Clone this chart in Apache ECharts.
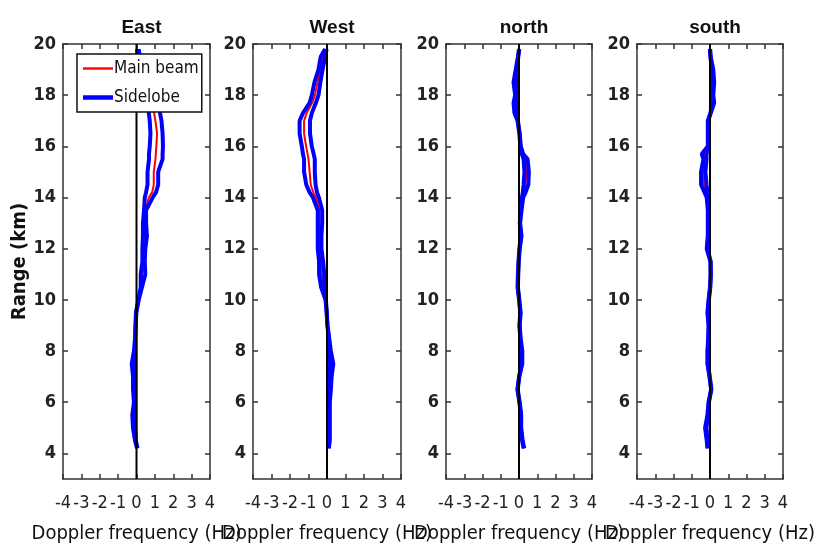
<!DOCTYPE html>
<html><head><meta charset="utf-8">
<script src="https://cdn.jsdelivr.net/npm/echarts@6/dist/echarts.min.js"></script>
<style>html,body{margin:0;padding:0;background:#fff}#c{width:819px;height:549px}</style>
</head><body><div id="c"></div>
<script>
const panelTitles = ['East', 'West', 'north', 'south'];
const xTicks = [-4, -3, -2, -1, 0, 1, 2, 3, 4];
const yTicks = [4, 6, 8, 10, 12, 14, 16, 18, 20];
const ranges = [4.2,4.5,5,5.5,6,6.5,7,7.5,8,8.5,9,9.5,10,10.5,11,11.5,12,12.5,13,13.5,14,14.2,14.5,15,15.5,15.7,16,16.5,17,17.3,17.7,18,18.5,19,19.5,19.8];

const eastMain = [0.04,-0.05,-0.12,-0.14,-0.1,-0.12,-0.12,-0.16,-0.1,-0.07,-0.05,-0.02,0.1,0.25,0.3,0.4,0.36,0.43,0.43,0.49,0.67,0.85,0.94,0.94,1.03,1.05,1.08,1.12,1.03,0.96,0.9,0.75,0.5,0.28,0.1,0.07];
const eastSideLo = [0.03,-0.08,-0.19,-0.23,-0.14,-0.19,-0.19,-0.26,-0.14,-0.08,-0.06,-0.03,0.1,0.23,0.23,0.32,0.32,0.35,0.35,0.41,0.45,0.52,0.6,0.6,0.68,0.68,0.72,0.76,0.72,0.67,0.6,0.5,0.3,0.12,0.04,0.04];
const eastSideHi = [0.05,-0.03,-0.06,-0.06,-0.06,-0.06,-0.06,-0.06,-0.06,-0.06,-0.04,-0.01,0.12,0.3,0.48,0.45,0.48,0.57,0.52,0.52,0.88,1.06,1.18,1.18,1.42,1.42,1.44,1.42,1.36,1.28,1.2,1.0,0.7,0.44,0.18,0.12];

const westMain = [0.09,0.13,0.13,0.13,0.13,0.16,0.18,0.22,0.16,0.11,0.02,0,-0.07,-0.24,-0.29,-0.34,-0.42,-0.41,-0.41,-0.41,-0.6,-0.74,-0.88,-0.94,-1.0,-1.05,-1.13,-1.24,-1.24,-1.1,-0.8,-0.65,-0.52,-0.36,-0.2,-0.05];
const westSideLo = [0.08,0.12,0.12,0.12,0.12,0.12,0.12,0.12,0.12,0.1,0.02,-0.02,-0.08,-0.32,-0.43,-0.43,-0.5,-0.5,-0.5,-0.5,-0.76,-0.94,-1.12,-1.24,-1.24,-1.3,-1.36,-1.48,-1.48,-1.3,-0.94,-0.82,-0.68,-0.46,-0.34,-0.1];
const westSideHi = [0.1,0.15,0.15,0.15,0.15,0.21,0.25,0.34,0.21,0.12,0.03,-0.01,-0.06,-0.15,-0.15,-0.21,-0.3,-0.3,-0.26,-0.26,-0.44,-0.54,-0.62,-0.66,-0.66,-0.72,-0.82,-0.92,-0.92,-0.82,-0.6,-0.46,-0.36,-0.24,-0.1,-0.02];

const northMain = [0.27,0.18,0.11,0.11,0.03,-0.08,0.01,0.17,0.17,0.08,0.03,0.08,0.01,-0.07,-0.05,-0.02,0.03,0.12,0.05,0.12,0.19,0.28,0.35,0.4,0.35,0.2,0.08,0.03,-0.07,-0.2,-0.22,-0.18,-0.22,-0.15,-0.05,0.01];
const northSideLo = [0.25,0.17,0.1,0.1,0.02,-0.09,0,0.15,0.15,0.07,0.02,0.07,0,-0.08,-0.06,-0.03,0.02,0.11,0.04,0.11,0.16,0.21,0.25,0.3,0.25,0.16,0.07,0.02,-0.08,-0.25,-0.3,-0.21,-0.3,-0.18,-0.06,0];
const northSideHi = [0.29,0.2,0.12,0.12,0.04,-0.07,0.02,0.18,0.18,0.09,0.04,0.09,0.02,-0.06,-0.04,-0.01,0.04,0.14,0.06,0.14,0.23,0.36,0.51,0.54,0.47,0.23,0.1,0.04,-0.06,-0.14,-0.14,-0.14,-0.14,-0.12,-0.04,0.02];

const southMain = [-0.13,-0.16,-0.23,-0.13,-0.07,0.07,-0.02,-0.13,-0.13,-0.09,-0.07,-0.13,-0.07,0.01,0.04,0.03,-0.16,-0.11,-0.11,-0.11,-0.14,-0.22,-0.33,-0.37,-0.3,-0.3,-0.11,-0.11,-0.11,0.03,0.18,0.14,0.18,0.14,0.03,0];
const southSideLo = [-0.14,-0.18,-0.27,-0.14,-0.08,0.06,-0.03,-0.14,-0.14,-0.1,-0.08,-0.14,-0.08,0,0.03,0.02,-0.18,-0.12,-0.12,-0.12,-0.18,-0.3,-0.49,-0.49,-0.36,-0.45,-0.12,-0.12,-0.12,0.02,0.14,0.1,0.14,0.1,0.02,-0.01];
const southSideHi = [-0.12,-0.14,-0.19,-0.12,-0.06,0.08,-0.01,-0.12,-0.12,-0.08,-0.06,-0.12,-0.06,0.02,0.05,0.04,-0.14,-0.1,-0.1,-0.1,-0.1,-0.14,-0.19,-0.25,-0.19,-0.19,-0.1,-0.1,-0.1,0.04,0.23,0.18,0.23,0.18,0.04,0.01];

const mains = [eastMain, westMain, northMain, southMain];
const sideLos = [eastSideLo, westSideLo, northSideLo, southSideLo];
const sideHis = [eastSideHi, westSideHi, northSideHi, southSideHi];

const grids = [
  {left: 63, top: 44, width: 147, height: 439},
  {left: 253, top: 44, width: 148, height: 439},
  {left: 446, top: 44, width: 146, height: 439},
  {left: 637, top: 44, width: 146, height: 439}
];
const FONT = "'DejaVu Sans Condensed','Liberation Sans Narrow','Arial Narrow','Liberation Sans',sans-serif";
const axisLineStyle = {color: '#333', width: 1.5};

const xAxes = [], yAxes = [], series = [], titles = [];
grids.forEach((g, i) => {
  titles.push({text: panelTitles[i], left: g.left + g.width / 2, top: 13, textAlign: 'center',
    textStyle: {fontFamily: "'Liberation Sans',Arial,sans-serif", fontSize: 19, fontWeight: 'bold', color: '#111'}});
  xAxes.push({gridIndex: i, type: 'value', position: 'bottom', min: -4, max: 4, interval: 1,
    axisLine: {show: true, onZero: false, lineStyle: axisLineStyle},
    axisTick: {show: true, inside: true, length: 5, lineStyle: axisLineStyle},
    axisLabel: {show: true, margin: 15, fontSize: 18, fontFamily: FONT, color: '#222', showMinLabel: true, showMaxLabel: true, hideOverlap: false},
    splitLine: {show: false},
    name: 'Doppler frequency (Hz)', nameLocation: 'middle', nameGap: 45,
    nameTextStyle: {fontSize: 20, fontFamily: FONT, color: '#111'}});
  xAxes.push({gridIndex: i, type: 'value', position: 'top', min: -4, max: 4, interval: 1,
    axisLine: {show: true, onZero: false, lineStyle: axisLineStyle},
    axisTick: {show: true, inside: true, length: 5, lineStyle: axisLineStyle},
    axisLabel: {show: false}, splitLine: {show: false}});
  yAxes.push(Object.assign({gridIndex: i, type: 'value', position: 'left', min: 3, max: 20,
    axisLine: {show: true, onZero: false, lineStyle: axisLineStyle},
    axisTick: {show: true, inside: true, length: 5, lineStyle: axisLineStyle, customValues: yTicks},
    axisLabel: {show: true, margin: 7, fontSize: 18, fontWeight: 'bold', fontFamily: FONT, color: '#222', customValues: yTicks},
    splitLine: {show: false}},
    i === 0 ? {name: 'Range (km)', nameLocation: 'middle', nameGap: 31, nameRotate: 90,
      nameTextStyle: {fontSize: 20, fontWeight: 'bold', fontFamily: FONT, color: '#111'}} : {}));
  yAxes.push({gridIndex: i, type: 'value', position: 'right', min: 3, max: 20,
    axisLine: {show: true, onZero: false, lineStyle: axisLineStyle},
    axisTick: {show: true, inside: true, length: 5, lineStyle: axisLineStyle, customValues: yTicks},
    axisLabel: {show: false}, splitLine: {show: false}});

  series.push({name: 'Main beam', type: 'line', xAxisIndex: 2 * i, yAxisIndex: 2 * i, z: 2,
    symbol: 'none', lineStyle: {color: '#ff0000', width: 2}, itemStyle: {color: '#ff0000'},
    data: ranges.map((r, k) => [mains[i][k], r])});
  [sideLos[i], sideHis[i]].forEach(arr => {
    series.push({name: 'Sidelobe', type: 'line', xAxisIndex: 2 * i, yAxisIndex: 2 * i, z: 3,
      symbol: 'none', lineStyle: {color: '#0000ff', width: 4}, itemStyle: {color: '#0000ff'},
      data: ranges.map((r, k) => [arr[k], r])});
  });
  series.push({type: 'line', xAxisIndex: 2 * i, yAxisIndex: 2 * i, z: 4, symbol: 'none', silent: true,
    lineStyle: {color: '#000', width: 2}, data: [[0, 3], [0, 20]]});
});

const chart = echarts.init(document.getElementById('c'), null, {renderer: 'canvas'});
chart.setOption({
  animation: false,
  backgroundColor: '#fff',
  title: titles,
  grid: grids,
  xAxis: xAxes,
  yAxis: yAxes,
  legend: {data: [
      {name: 'Main beam', icon: 'path://M0 0H30V2.4H0Z', itemStyle: {color: '#ff0000'}},
      {name: 'Sidelobe', icon: 'path://M0 0H30V4.5H0Z', itemStyle: {color: '#0000ff'}}],
    orient: 'vertical', left: 77, top: 54, z: 10,
    backgroundColor: '#fff', borderColor: '#111', borderWidth: 1.5, padding: [6, 3, 6, 6],
    itemWidth: 30, itemHeight: 14, itemGap: 12,
    textStyle: {fontSize: 17, fontFamily: FONT, color: '#111', padding: [0, 0, 0, -4]}},
  series: series
});
</script></body></html>
